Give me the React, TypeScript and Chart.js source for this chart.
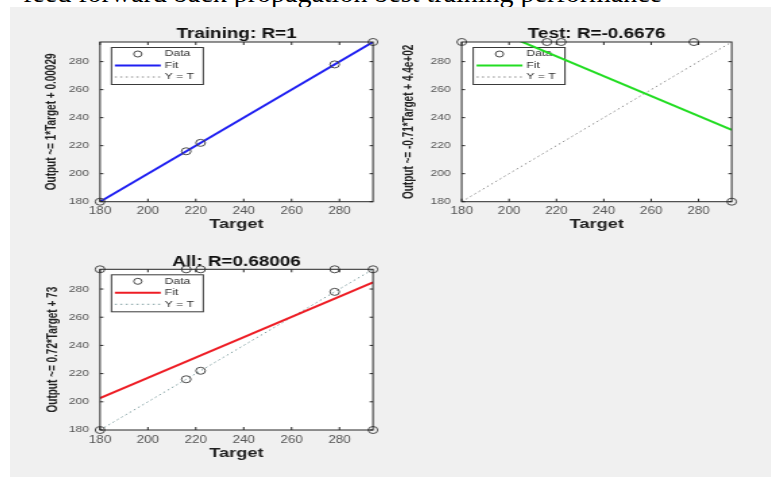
import React, { useEffect, useRef } from "react";
import { Chart, registerables } from "chart.js";

Chart.register(...registerables);
Chart.defaults.font.family = "'Liberation Sans', Arial, sans-serif";

// ---- data ----
const targetRange = [180, 294];
const tickValues = [180, 200, 220, 240, 260, 280];

const trainTargets = [180, 216, 222, 278, 294];
const trainOutputs = [180, 216, 222, 278, 294];
const trainFit = [1, 0.00029]; // slope, intercept

const testTargets = [180, 216, 222, 278, 294];
const testOutputs = [294, 294, 294, 294, 180];
const testFit = [-0.71, 440];

const allTargets = [...trainTargets, ...testTargets];
const allOutputs = [...trainOutputs, ...testOutputs];
const allFit = [0.72, 73];

const panelTitles = ["Training: R=1", "Test: R=-0.6676", "All: R=0.68006"];
const outputLabels = [
  "Output ~= 1*Target + 0.00029",
  "Output ~= -0.71*Target + 4.4e+02",
  "Output ~= 0.72*Target + 73",
];
const xAxisLabel = "Target";
const legendLabels = ["Data", "Fit", "Y = T"];
const headingText = "feed forward back propagation best training performance";

const panelSeries = [
  { targets: trainTargets, outputs: trainOutputs, fit: trainFit },
  { targets: testTargets, outputs: testOutputs, fit: testFit },
  { targets: allTargets, outputs: allOutputs, fit: allFit },
];

// ---- styling / geometry ----
const fitColors = ["#1f1ff2", "#22dd22", "#ee1d25"];
const identityColors = ["#8a8a8a", "#8a8a8a", "#7f9ea0"];
const markerColor = "#4a4a4a";
const axisColor = "#262626";
const STRETCH = 1.35; // horizontal stretch of the figure
const TITLE_SIZE = 14;

const panels = [
  { x: 30, y: 20, w: 360, h: 220, plot: [100, 42, 373, 201.7], titleY: 34, xTitleY: 224, yTitleX: 52 },
  { x: 390, y: 20, w: 380, h: 220, plot: [461.7, 42, 731.7, 201.7], titleY: 34, xTitleY: 224, yTitleX: 409 },
  { x: 30, y: 250, w: 360, h: 220, plot: [100, 269.3, 373, 430], titleY: 262, xTitleY: 453, yTitleX: 53 },
];

const framePlugin = {
  id: "panelFrame",
  beforeDraw(chart: any) {
    const { ctx, chartArea: a } = chart;
    ctx.save();
    ctx.fillStyle = "#ffffff";
    ctx.fillRect(a.left, a.top, a.right - a.left, a.bottom - a.top);
    ctx.restore();
  },
  beforeDatasetsDraw(chart: any) {
    // boxed legend in the upper-left corner of the axes
    const { ctx, chartArea: a } = chart;
    const bx = a.left + 8;
    const by = a.top + 5;
    const bw = 68;
    const bh = 37;
    ctx.save();
    ctx.fillStyle = "#ffffff";
    ctx.fillRect(bx, by, bw, bh);
    ctx.strokeStyle = "#3a3a3a";
    ctx.lineWidth = 1;
    ctx.strokeRect(bx + 0.5, by + 0.5, bw, bh);
    const rows = [7, 18.5, 30];
    chart.data.datasets.forEach((ds: any, i: number) => {
      const ry = by + rows[i];
      if (ds.showLine === false) {
        ctx.strokeStyle = ds.borderColor;
        ctx.lineWidth = 1;
        ctx.beginPath();
        ctx.arc(bx + 20, ry, 3, 0, Math.PI * 2);
        ctx.stroke();
      } else {
        ctx.strokeStyle = ds.borderColor;
        ctx.lineWidth = ds.borderWidth;
        ctx.setLineDash(ds.borderDash || []);
        ctx.beginPath();
        ctx.moveTo(bx + 3, ry);
        ctx.lineTo(bx + 37, ry);
        ctx.stroke();
        ctx.setLineDash([]);
      }
      ctx.fillStyle = "#333";
      ctx.font = "9px 'Liberation Sans', Arial, sans-serif";
      ctx.textBaseline = "middle";
      ctx.textAlign = "left";
      ctx.fillText(ds.label, bx + 40, ry);
    });
    ctx.restore();
  },
  afterDatasetsDraw(chart: any) {
    const { ctx, chartArea: a, scales } = chart;
    ctx.save();
    ctx.strokeStyle = axisColor;
    ctx.lineWidth = 1;
    ctx.strokeRect(a.left, a.top, a.right - a.left, a.bottom - a.top);
    ctx.beginPath();
    tickValues.forEach((v) => {
      const px = scales.x.getPixelForValue(v);
      ctx.moveTo(px, a.bottom);
      ctx.lineTo(px, a.bottom - 3);
      ctx.moveTo(px, a.top);
      ctx.lineTo(px, a.top + 3);
      const py = scales.y.getPixelForValue(v);
      ctx.moveTo(a.left, py);
      ctx.lineTo(a.left + 2.5, py);
      ctx.moveTo(a.right, py);
      ctx.lineTo(a.right - 2.5, py);
    });
    ctx.stroke();
    ctx.restore();
  },
};

function RegressionPanel({ index }: { index: number }) {
  const ref = useRef<HTMLCanvasElement | null>(null);
  const p = panels[index];
  const cw = Math.round(p.w / STRETCH);
  const ch = p.h;

  useEffect(() => {
    if (!ref.current) return;
    const s = panelSeries[index];
    const plotL = (p.plot[0] - p.x) / STRETCH;
    const plotR = (p.plot[2] - p.x) / STRETCH;
    const plotT = p.plot[1] - p.y;
    const plotB = p.plot[3] - p.y;
    const titleLH = TITLE_SIZE * 1.2;
    const titleTop = Math.max(0, p.titleY - p.y - titleLH / 2);
    const titleBottom = plotT - titleTop - titleLH;
    const xLH = 13.5 * 1.2;
    const xTitlePad = ch - xLH / 2 - (p.xTitleY - p.y);
    const yTitlePad = (p.yTitleX - p.x) / STRETCH - 6;

    const setTicks = (scale: any) => {
      scale.ticks = tickValues.map((v) => ({ value: v }));
    };

    const chart = new Chart(ref.current, {
      type: "scatter",
      data: {
        datasets: [
          {
            label: legendLabels[0],
            data: s.targets.map((t, i) => ({ x: t, y: s.outputs[i] })),
            showLine: false,
            pointStyle: "circle",
            pointRadius: 3.5,
            pointBorderWidth: 1,
            borderColor: markerColor,
            backgroundColor: "rgba(0,0,0,0)",
            clip: false,
            order: 0,
          },
          {
            label: legendLabels[1],
            data: targetRange.map((t) => ({ x: t, y: s.fit[0] * t + s.fit[1] })),
            showLine: true,
            borderColor: fitColors[index],
            backgroundColor: fitColors[index],
            borderWidth: 2,
            pointRadius: 0,
            order: 1,
          },
          {
            label: legendLabels[2],
            data: targetRange.map((t) => ({ x: t, y: t })),
            showLine: true,
            borderColor: identityColors[index],
            borderWidth: 1,
            borderDash: [1.5, 2.5],
            pointRadius: 0,
            order: 2,
          },
        ] as any,
      },
      options: {
        animation: false,
        responsive: false,
        events: [],
        layout: { padding: { left: 0, right: cw - plotR, top: 0, bottom: 0 } },
        plugins: {
          legend: { display: false },
          tooltip: { enabled: false },
          title: {
            display: true,
            text: panelTitles[index],
            fullSize: false,
            color: "#111",
            font: { size: TITLE_SIZE, weight: "bold" },
            padding: { top: titleTop, bottom: titleBottom },
          },
        },
        scales: {
          x: {
            type: "linear",
            position: "bottom",
            min: targetRange[0],
            max: targetRange[1],
            afterBuildTicks: setTicks,
            afterFit: (sc: any) => {
              sc.height = ch - plotB;
            },
            grid: { display: false, drawTicks: false },
            border: { display: false },
            ticks: { font: { size: 10 }, color: "#555", padding: 4, maxRotation: 0, autoSkip: false },
            title: {
              display: true,
              text: xAxisLabel,
              color: "#222",
              font: { size: 13.5, weight: "bold" },
              padding: { top: 0, bottom: xTitlePad },
            },
          },
          y: {
            type: "linear",
            position: "left",
            min: targetRange[0],
            max: targetRange[1],
            afterBuildTicks: setTicks,
            afterFit: (sc: any) => {
              sc.width = plotL;
            },
            grid: { display: false, drawTicks: false },
            border: { display: false },
            ticks: { font: { size: 9 }, color: "#555", padding: 8, autoSkip: false },
            title: {
              display: true,
              text: outputLabels[index],
              color: "#222",
              font: { size: 10, weight: "bold" },
              padding: { top: yTitlePad, bottom: 0 },
            },
          },
        },
      } as any,
      plugins: [framePlugin],
    });
    return () => chart.destroy();
  }, [index]);

  return (
    <div
      style={{
        position: "absolute",
        left: p.x,
        top: p.y,
        width: cw,
        height: ch,
        transform: `scaleX(${STRETCH})`,
        transformOrigin: "0 0",
      }}
    >
      <canvas ref={ref} width={cw} height={ch} style={{ width: cw, height: ch, display: "block" }} />
    </div>
  );
}

export default function App() {
  return (
    <div
      style={{
        position: "absolute",
        left: 0,
        top: 0,
        width: 771,
        height: 477,
        background: "#ffffff",
        overflow: "hidden",
      }}
    >
      <div style={{ position: "absolute", left: 0, top: 0, width: 771, height: 7, overflow: "hidden" }}>
        <span
          style={{
            position: "absolute",
            left: 23,
            top: -21.5,
            font: "28px 'Liberation Serif', 'Times New Roman', serif",
            lineHeight: "28px",
            whiteSpace: "nowrap",
            color: "#000",
          }}
        >
          {headingText}
        </span>
      </div>
      <div style={{ position: "absolute", left: 10, top: 7, width: 761, height: 470, background: "#f0f0f0" }} />
      {panels.map((_, i) => (
        <RegressionPanel key={i} index={i} />
      ))}
    </div>
  );
}
